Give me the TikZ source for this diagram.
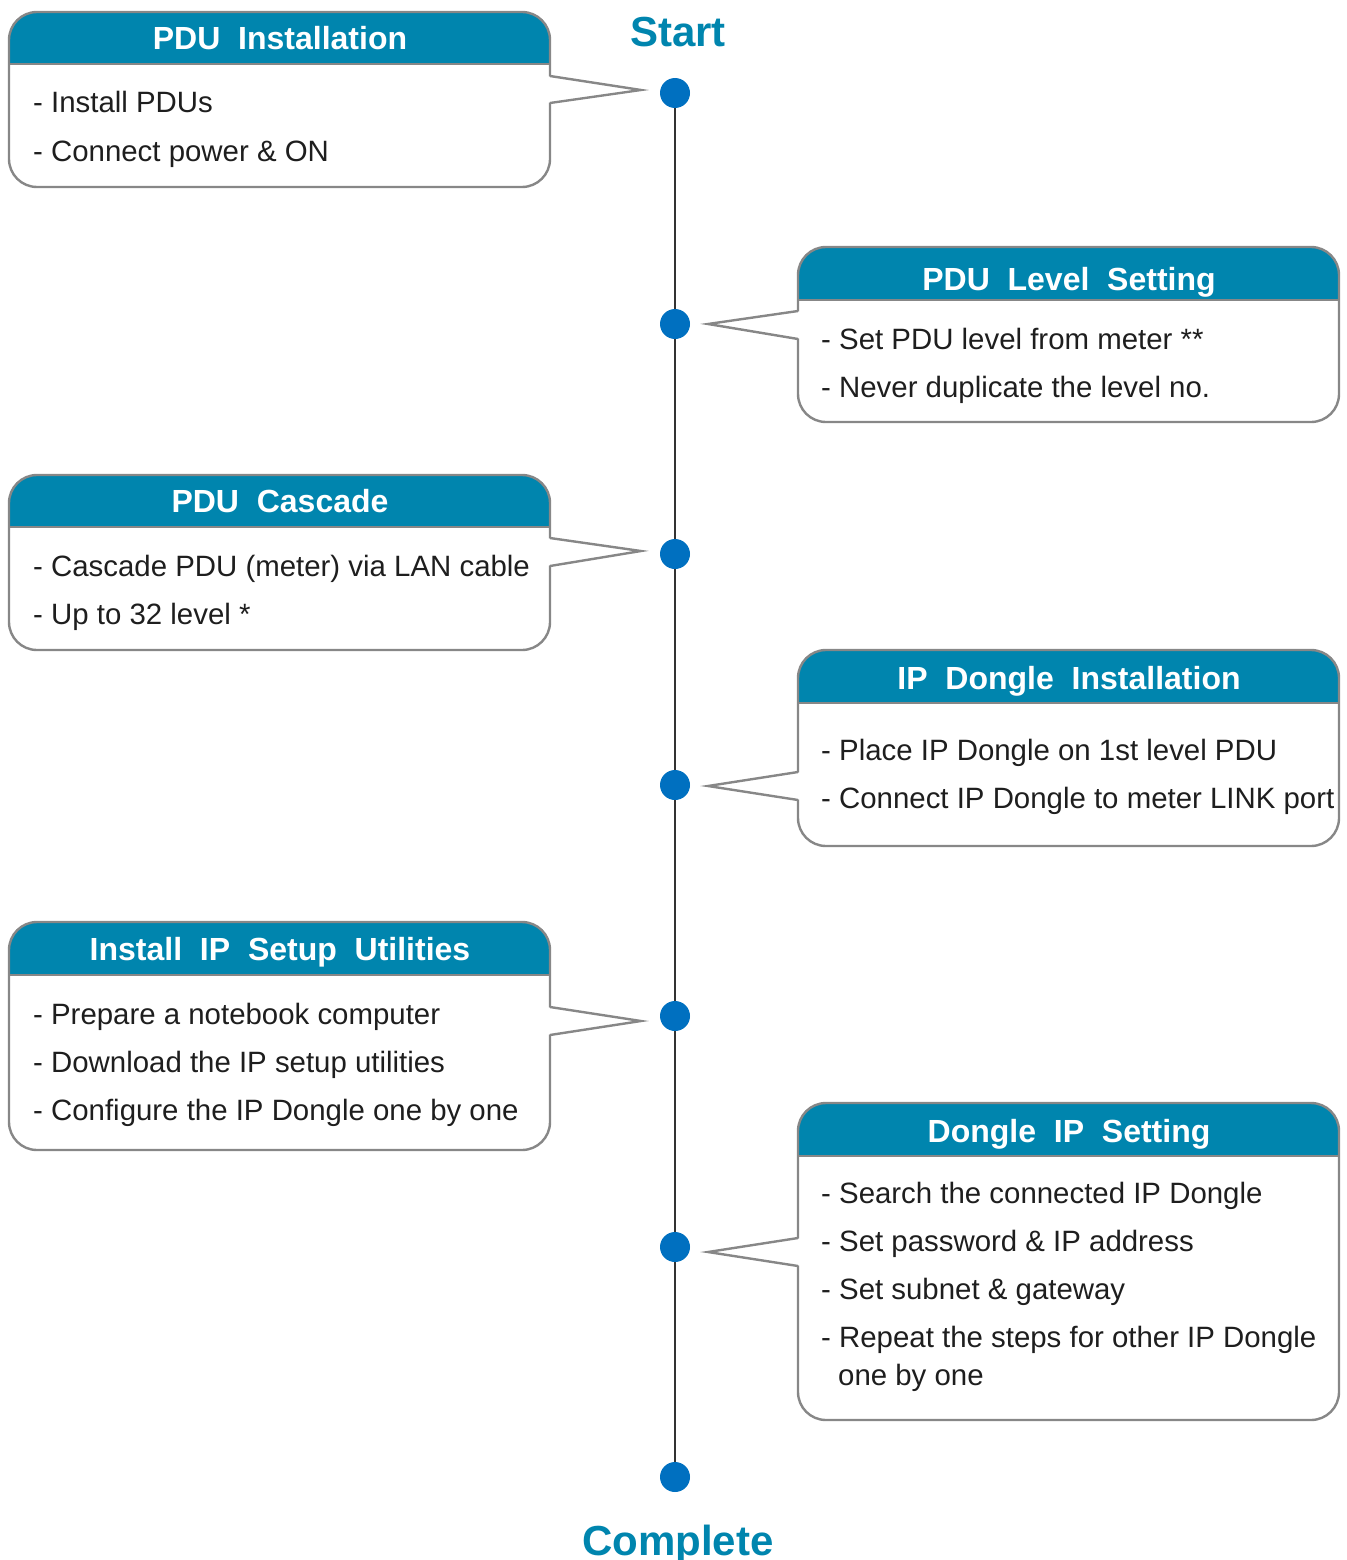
\documentclass[tikz,border=0pt]{standalone}
\usepackage{fontspec}
\setmainfont{Liberation Sans}
\usetikzlibrary{positioning}
\definecolor{pduteal}{HTML}{0085AE}
\definecolor{pdudot}{HTML}{0070C0}
\definecolor{pdugray}{HTML}{878787}
\definecolor{pduline}{HTML}{333333}
\definecolor{pdutext}{HTML}{1E1E1E}
\tikzset{
  boxline/.style={draw=pdugray,line width=2.4pt,rounded corners=28pt},
  headfill/.style={fill=pduteal,rounded corners=28pt},
  headsep/.style={draw=pdugray,line width=1.6pt},
  headtext/.style={font=\fontsize{32}{38}\selectfont\bfseries,text=white,inner sep=0pt,anchor=base},
  bodytext/.style={font=\fontsize{29.4}{35}\selectfont,text=pdutext,inner sep=0pt,anchor=base west},
  endtext/.style={font=\fontsize{42}{50}\selectfont\bfseries,text=pduteal,inner sep=0pt,anchor=base},
  dotnode/.style={circle,fill=pdudot,minimum size=30pt,inner sep=0pt},
  timeline/.style={draw=pduline,line width=2.2pt},
  pointer/.style={draw=pdugray,line width=2.4pt,line join=miter},
}

\begin{document}
\begin{tikzpicture}[x=1pt,y=-1pt]
\useasboundingbox (0,0) rectangle (1346,1560);

% timeline
\node[endtext] (start) at (678,47) {Start};
\node[endtext] (complete) at (678,1555) {Complete};
\foreach \y/\n in {93/d1,324/d2,554/d3,785/d4,1016/d5,1247/d6,1477/d7}
  \node[dotnode] (\n) at (675,\y) {};
\foreach \a/\b in {d1/d2,d2/d3,d3/d4,d4/d5,d5/d6,d6/d7}
  \draw[timeline] (\a) -- (\b);

% PDU Installation
\begin{scope}
\clip (0,0) rectangle (560,64);
\fill[headfill] (9,12) rectangle (550,187);
\end{scope}
\draw[headsep] (9,64) -- (550,64);
\draw[boxline] (9,12) rectangle (550,187);
\fill[white] (546,76) -- (641,90) -- (546,103) -- cycle;
\draw[pointer] (550,76) -- (641,90) -- (550,103);
\node[headtext] (h1) at (280,50) {PDU\ \ Installation};
\node[bodytext] (t11) at (33,113) {- Install PDUs};
\node[bodytext] (t12) at (33,161) {- Connect power \& ON};

% PDU Level Setting
\begin{scope}
\clip (790,0) rectangle (1346,300);
\fill[headfill] (798,247) rectangle (1339,422);
\end{scope}
\draw[headsep] (798,300) -- (1339,300);
\draw[boxline] (798,247) rectangle (1339,422);
\fill[white] (802,311) -- (708,324) -- (802,339) -- cycle;
\draw[pointer] (798,311) -- (708,324) -- (798,339);
\node[headtext] (h2) at (1069,290) {PDU\ \ Level\ \ Setting};
\node[bodytext] (t21) at (821,349) {- Set PDU level from meter **};
\node[bodytext] (t22) at (821,397) {- Never duplicate the level no.};

% PDU Cascade
\begin{scope}
\clip (0,400) rectangle (560,527);
\fill[headfill] (9,475) rectangle (550,650);
\end{scope}
\draw[headsep] (9,527) -- (550,527);
\draw[boxline] (9,475) rectangle (550,650);
\fill[white] (546,538) -- (641,551) -- (546,566) -- cycle;
\draw[pointer] (550,538) -- (641,551) -- (550,566);
\node[headtext] (h3) at (280,512) {PDU\ \ Cascade};
\node[bodytext] (t31) at (33,576) {- Cascade PDU (meter) via LAN cable};
\node[bodytext] (t32) at (33,624) {- Up to 32 level *};

% IP Dongle Installation
\begin{scope}
\clip (790,600) rectangle (1346,703);
\fill[headfill] (798,650) rectangle (1339,846);
\end{scope}
\draw[headsep] (798,703) -- (1339,703);
\draw[boxline] (798,650) rectangle (1339,846);
\fill[white] (802,772) -- (708,786) -- (802,800) -- cycle;
\draw[pointer] (798,772) -- (708,786) -- (798,800);
\node[headtext] (h4) at (1069,689) {IP\ \ Dongle\ \ Installation};
\node[bodytext] (t41) at (821,760) {- Place IP Dongle on 1st level PDU};
\node[bodytext] (t42) at (821,808) {- Connect IP Dongle to meter LINK port};

% Install IP Setup Utilities
\begin{scope}
\clip (0,900) rectangle (560,975);
\fill[headfill] (9,922) rectangle (550,1150);
\end{scope}
\draw[headsep] (9,975) -- (550,975);
\draw[boxline] (9,922) rectangle (550,1150);
\fill[white] (546,1007) -- (641,1021) -- (546,1035) -- cycle;
\draw[pointer] (550,1007) -- (641,1021) -- (550,1035);
\node[headtext] (h5) at (280,960) {Install\ \ IP\ \ Setup\ \ Utilities};
\node[bodytext] (t51) at (33,1024) {- Prepare a notebook computer};
\node[bodytext] (t52) at (33,1072) {- Download the IP setup utilities};
\node[bodytext] (t53) at (33,1120) {- Configure the IP Dongle one by one};

% Dongle IP Setting
\begin{scope}
\clip (790,1080) rectangle (1346,1156);
\fill[headfill] (798,1103) rectangle (1339,1420);
\end{scope}
\draw[headsep] (798,1156) -- (1339,1156);
\draw[boxline] (798,1103) rectangle (1339,1420);
\fill[white] (802,1238) -- (708,1252) -- (802,1266) -- cycle;
\draw[pointer] (798,1238) -- (708,1252) -- (798,1266);
\node[headtext] (h6) at (1069,1142) {Dongle\ \ IP\ \ Setting};
\node[bodytext] (t61) at (821,1203) {- Search the connected IP Dongle};
\node[bodytext] (t62) at (821,1251) {- Set password \& IP address};
\node[bodytext] (t63) at (821,1299) {- Set subnet \& gateway};
\node[bodytext] (t64) at (821,1347) {- Repeat the steps for other IP Dongle};
\node[bodytext] (t65) at (838,1385) {one by one};

\end{tikzpicture}
\end{document}
